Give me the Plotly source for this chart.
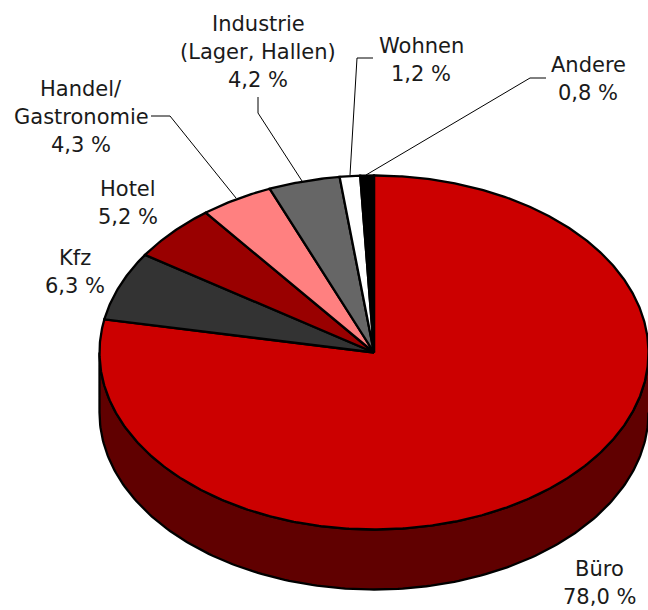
import numpy as np
import plotly.graph_objects as go

# Data
categories = ["Büro", "Kfz", "Hotel", "Handel/Gastronomie", "Industrie (Lager, Hallen)", "Wohnen", "Andere"]
values = [78.0, 6.3, 5.2, 4.3, 4.2, 1.2, 0.8]
colors = ["#CC0000", "#333333", "#990000", "#FF8080", "#666666", "#FFFFFF", "#000000"]
side_color = "#600000"

label_lines = [
    ["Büro", "78,0 %"],
    ["Kfz", "6,3 %"],
    ["Hotel", "5,2 %"],
    ["Handel/", "Gastronomie", "4,3 %"],
    ["Industrie", "(Lager, Hallen)", "4,2 %"],
    ["Wohnen", "1,2 %"],
    ["Andere", "0,8 %"],
]
# label anchors: centre x, centre y of first line
label_x = [599, 75, 128, 81, 258, 421, 588]
label_y = [569, 258, 189, 89, 24, 46, 65]
line_gap = 28

leader_x = [[151, 170, 236], [258, 258, 302], [373, 357, 350], [546, 530, 366]]
leader_y = [[116, 116, 198], [97, 113, 181], [58, 58, 175], [78, 78, 175]]

CX, CY, RX, RY, DEPTH = 374, 352.5, 274.5, 177, 60

fig = go.Figure()

# side wall (front half of the rim, all of it belongs to the first slice)
t = np.radians(np.linspace(90, 270, 181))
xs = CX + RX * np.sin(t)
ys = CY - RY * np.cos(t)
fig.add_trace(go.Scatter(
    x=np.concatenate([xs, xs[::-1]]),
    y=np.concatenate([ys, ys[::-1] + DEPTH]),
    mode="lines", fill="toself", fillcolor=side_color,
    line=dict(color="#000000", width=2.3), hoverinfo="skip", showlegend=False))

# top slices
cum = np.cumsum([0] + values)
for i, name in enumerate(categories):
    a = np.radians(np.linspace(cum[i], cum[i + 1], max(int(values[i] * 8), 6)) * 3.6)
    x = np.concatenate([[CX], CX + RX * np.sin(a), [CX]])
    y = np.concatenate([[CY], CY - RY * np.cos(a), [CY]])
    fig.add_trace(go.Scatter(
        x=x, y=y, mode="lines", fill="toself", fillcolor=colors[i], name=name,
        line=dict(color="#000000", width=2.3), showlegend=False,
        hovertemplate=f"{name}: {values[i]} %<extra></extra>"))

# leader lines
for lx, ly in zip(leader_x, leader_y):
    fig.add_trace(go.Scatter(x=lx, y=ly, mode="lines", line=dict(color="#000000", width=1),
                             hoverinfo="skip", showlegend=False))

# labels
for lines, lx, ly in zip(label_lines, label_x, label_y):
    for j, s in enumerate(lines):
        fig.add_annotation(x=lx, y=ly + j * line_gap, text=s, showarrow=False,
                           xanchor="center", yanchor="middle",
                           font=dict(family="DejaVu Sans", size=21, color="#1a1a1a"))

fig.update_layout(
    width=648, height=610, margin=dict(l=0, r=0, t=0, b=0),
    paper_bgcolor="#FFFFFF", plot_bgcolor="#FFFFFF", showlegend=False,
    xaxis=dict(range=[0, 648], visible=False, fixedrange=True),
    yaxis=dict(range=[610, 0], visible=False, fixedrange=True),
)
fig.write_html("out.html", config={"displayModeBar": False},
               post_script="document.body.style.margin='0';")
